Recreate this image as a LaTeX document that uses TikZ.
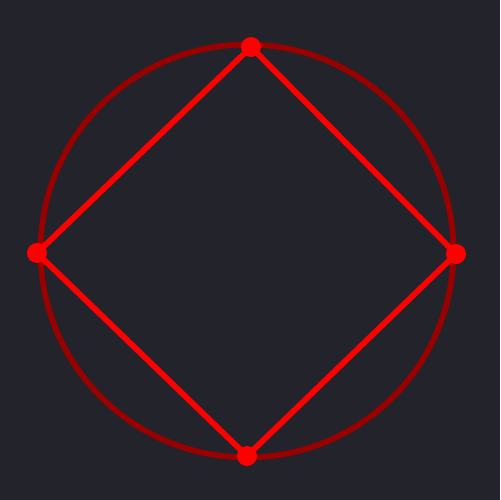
\documentclass[tikz,border=0pt]{standalone}
\usepackage{tikz}
\definecolor{bg}{HTML}{22232B}
\definecolor{circ}{HTML}{990000}
\definecolor{sq}{HTML}{FF0000}
\begin{document}
\begin{tikzpicture}[x=0.02cm,y=-0.02cm,
  ring/.style={draw=circ,line width=3.3pt},
  edge/.style={draw=sq,line width=3.3pt},
  dot/.style={circle,fill=sq,inner sep=0pt,minimum size=0.4cm}]
\fill[bg] (0,0) rectangle (500,500);
\useasboundingbox (0,0) rectangle (500,500);
\coordinate (c) at (247,251);
\draw[ring] (c) circle[radius=4.13cm];
\node[dot] (t) at (251,47) {};
\node[dot] (l) at (37,253) {};
\node[dot] (r) at (456,254) {};
\node[dot] (b) at (247,456) {};
\draw[edge,line join=round] (t.center) -- (r.center) -- (b.center) -- (l.center) -- cycle;
\end{tikzpicture}
\end{document}
